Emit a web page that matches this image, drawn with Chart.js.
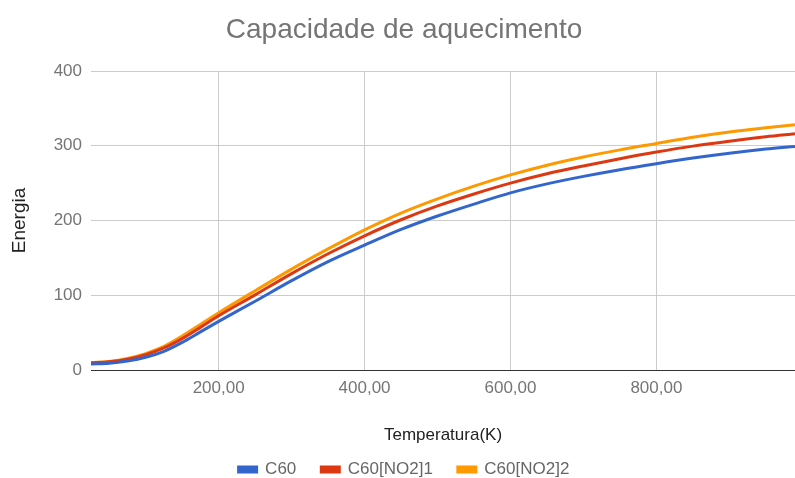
<!DOCTYPE html>
<html>
<head>
<meta charset="utf-8">
<script src="https://cdn.jsdelivr.net/npm/chart.js@4/dist/chart.umd.min.js"></script>
<style>
  html, body { margin: 0; padding: 0; background: #fff; }
  #wrap { width: 795px; height: 478px; }
</style>
</head>
<body>
<div id="wrap"><canvas id="heatChart"></canvas></div>
<script>
// values
const temperatures = [25, 50, 75, 100, 125, 150, 175, 200, 250, 300, 350, 400, 450, 500, 550, 600, 650, 700, 750, 800, 850, 900, 950, 990];
const c60      = [8, 9, 12, 17, 25, 37, 51, 65, 92, 119.5, 145, 167, 188, 206, 222, 237, 249, 259, 268, 276, 283.5, 290, 295.5, 299];
const c60no2_1 = [9.5, 11, 14.5, 20.5, 29.5, 42, 57, 72.5, 100.5, 129, 155.5, 179.5, 201, 219.5, 235.5, 250, 262.5, 273, 282.7, 291.6, 299.5, 306, 312, 316];
const c60no2_2 = [10, 11.5, 15.5, 22, 31.5, 45.5, 61, 76.5, 106, 135, 162, 187.5, 210, 229, 246, 261, 274, 285, 294.5, 303, 311.5, 318.5, 324, 328];
const xTicks = [200, 400, 600, 800];

Chart.defaults.font.family = '"Liberation Sans", Arial, sans-serif';

function toPoints(values) {
    return temperatures.map((t, i) => ({ x: t, y: values[i] }));
}

function lineSet(label, values, color) {
    return {
        label: label,
        data: toPoints(values),
        borderColor: color,
        backgroundColor: color,
        borderWidth: 3,
        pointRadius: 0,
        cubicInterpolationMode: 'monotone'
    };
}

new Chart(document.getElementById('heatChart'), {
    type: 'line',
    data: {
        datasets: [
            lineSet('C60', c60, '#3366CC'),
            lineSet('C60[NO2]1', c60no2_1, '#DC3912'),
            lineSet('C60[NO2]2', c60no2_2, '#FF9900')
        ]
    },
    options: {
        responsive: true,
        maintainAspectRatio: false,
        animation: false,
        layout: { padding: { left: 13, right: 0, top: 0, bottom: -10 } },
        plugins: {
            title: {
                display: true,
                text: 'Capacidade de aquecimento',
                color: '#757575',
                font: { size: 28, weight: 'normal' },
                padding: { top: 13, bottom: 24.4 }
            },
            legend: {
                position: 'bottom',
                labels: {
                    color: '#666',
                    font: { size: 17 },
                    boxWidth: 18,
                    boxHeight: 5,
                    padding: 25
                }
            },
            tooltip: { enabled: false }
        },
        scales: {
            x: {
                type: 'linear',
                min: 25,
                max: 990,
                afterBuildTicks: scale => { scale.ticks = xTicks.map(v => ({ value: v })); },
                afterFit: scale => { scale.height = 66; },
                ticks: {
                    color: '#757575',
                    font: { size: 17 },
                    padding: 8,
                    maxRotation: 0,
                    callback: v => v.toFixed(2).replace('.', ',')
                },
                grid: { color: '#cccccc', drawTicks: false },
                border: { display: true, color: '#333333', width: 1 },
                title: {
                    display: true,
                    text: 'Temperatura(K)',
                    color: '#222',
                    font: { size: 17 },
                    padding: { top: 0, bottom: -10 }
                }
            },
            y: {
                min: 0,
                max: 400,
                afterFit: scale => { scale.width = 78; },
                ticks: {
                    stepSize: 100,
                    color: '#757575',
                    font: { size: 17 },
                    padding: 9
                },
                grid: {
                    color: ctx => ctx.tick && ctx.tick.value === 0 ? '#333333' : '#cccccc',
                    drawTicks: false
                },
                border: { display: false },
                title: {
                    display: true,
                    text: 'Energia',
                    color: '#222',
                    font: { size: 19 },
                    padding: { top: -4.5, bottom: 0 }
                }
            }
        }
    }
});
</script>
</body>
</html>
